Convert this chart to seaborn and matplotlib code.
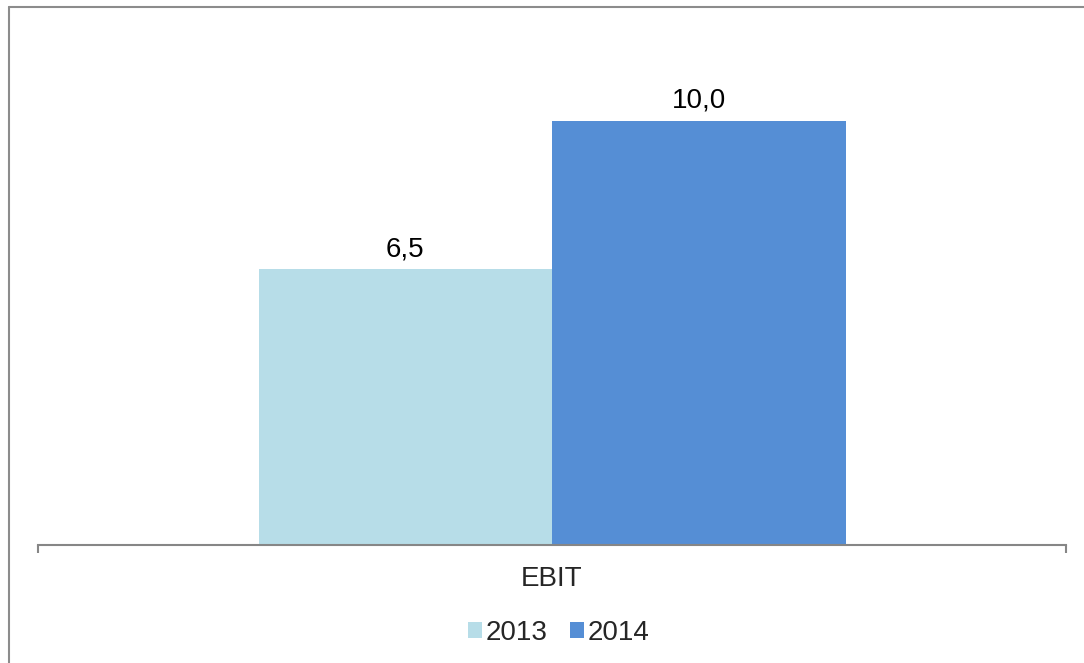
import matplotlib
matplotlib.use("Agg")
import matplotlib.pyplot as plt
import matplotlib.patches as mpatches
from matplotlib.lines import Line2D
import seaborn as sns
import pandas as pd

# data
categories = ["EBIT", "EBIT"]
years = ["2013", "2014"]
values = [6.5, 10.0]
colors = ["#B7DDE8", "#558ED5"]

df = pd.DataFrame({"category": categories, "year": years, "value": values})

sns.set_style("white")
plt.rcParams["font.family"] = ["Liberation Sans", "DejaVu Sans"]

fig = plt.figure(figsize=(10.84, 6.63), dpi=100)
ax = fig.add_axes([0.0351, 0.178, 0.9483, 0.7677])

sns.barplot(data=df, x="category", y="value", hue="year",
            palette=colors, width=0.571, saturation=1, ax=ax,
            legend=False, edgecolor="none")

for cont in ax.containers:
    ax.bar_label(cont, labels=[f"{v:.1f}".replace(".", ",") for v in cont.datavalues],
                 padding=5, fontsize=20, color="#000000")

ax.set_xlim(-0.5, 0.5)
ax.set_ylim(0, 12)
ax.set_xlabel("")
ax.set_ylabel("")
ax.set_yticks([])

# outer ticks at the ends, category label in the middle
ax.set_xticks([-0.5, 0.5])
ax.set_xticklabels(["", ""])
ax.set_xticks([0], minor=True)
ax.set_xticklabels(["EBIT"], minor=True, fontsize=20)
ax.tick_params(axis="x", which="major", direction="out", length=6,
               width=1.5, color="#868686", bottom=True)
ax.tick_params(axis="x", which="minor", length=0, pad=15)

for s in ["top", "right", "left"]:
    ax.spines[s].set_visible(False)
ax.spines["bottom"].set_color("#868686")
ax.spines["bottom"].set_linewidth(1.5)

# legend
handles = [mpatches.Rectangle((0, 0), 1, 1, facecolor=c, edgecolor="none") for c in colors]
fig.legend(handles, years, loc="center", bbox_to_anchor=(0.5155, 0.045),
           ncol=2, frameon=False, fontsize=20, handlelength=0.5,
           handleheight=0.5, handletextpad=0.15, columnspacing=0.8)

# chart border (top and left edges visible)
fig.add_artist(Line2D([9 / 1084, 9 / 1084], [0, 1 - 7 / 663], transform=fig.transFigure,
                      color="#8C8C8C", linewidth=1.5))
fig.add_artist(Line2D([9 / 1084, 1], [1 - 7 / 663, 1 - 7 / 663], transform=fig.transFigure,
                      color="#8C8C8C", linewidth=1.5))

fig.savefig("out.png", dpi=100, facecolor="white")
